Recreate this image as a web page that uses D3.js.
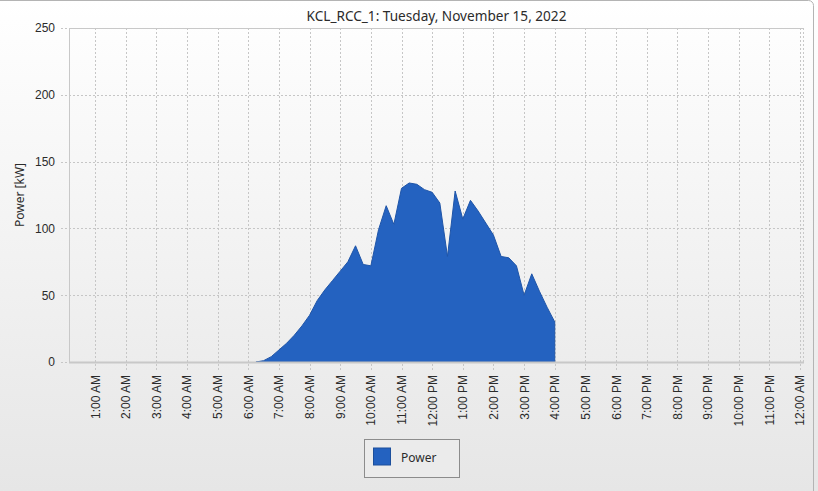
<!DOCTYPE html>
<html>
<head>
<meta charset="utf-8">
<script src="https://cdn.jsdelivr.net/npm/d3@7"></script>
<style>
  html, body { margin: 0; padding: 0; background: #ececec; }
  svg { display: block; font-family: "Noto Sans", "Open Sans", sans-serif; }
  .tick-label { font-size: 12px; fill: #2b2b2b; }
</style>
</head>
<body>
<div id="chart-div"></div>
<script>
const WIDTH = 818;
const HEIGHT = 491;
const MARGIN = { top: 28, right: 14, bottom: 129, left: 69 };

const TITLE = 'KCL_RCC_1: Tuesday, November 15, 2022';
const Y_LABEL = 'Power [kW]';
const SERIES_NAME = 'Power';

// sample times (15 min steps) and power readings in kW
const times = ['06:15', '06:30', '06:45', '07:00', '07:15', '07:30', '07:45',
  '08:00', '08:15', '08:30', '08:45', '09:00', '09:15', '09:30', '09:45',
  '10:00', '10:15', '10:30', '10:45', '11:00', '11:15', '11:30', '11:45',
  '12:00', '12:15', '12:30', '12:45', '13:00', '13:15', '13:30', '13:45',
  '14:00', '14:15', '14:30', '14:45', '15:00', '15:15', '15:30', '15:45', '16:00'];
const power = [0, 1, 4, 9, 14, 20, 27,
  35, 46, 54, 61, 68, 75, 87, 73,
  72, 99, 117, 103, 130, 134, 133, 129,
  127, 119, 79, 128, 107, 121, 113, 104,
  95, 79, 78, 72, 50, 66, 53, 41, 30];

const yTicks = [0, 50, 100, 150, 200, 250];
const xDomain = ['00:09', '24:08'];

const parseTime = s => {
  const [h, m] = s.split(':').map(Number);
  return new Date(2022, 10, 15, h, m);
};

class AreaChart {
  constructor() {
    this.data = times.map((t, i) => ({ t: parseTime(t), v: power[i] }));
    this.initializeSvg();
    this.drawAxes();
    this.drawArea();
    this.drawLegend();
  }

  initializeSvg() {
    this.svg = d3.select('#chart-div')
      .append('svg')
      .attr('width', WIDTH)
      .attr('height', HEIGHT);

    let defs = this.svg.append('defs');
    let bg = defs.append('linearGradient')
      .attr('id', 'bg-grad')
      .attr('x1', 0).attr('y1', 0).attr('x2', 0).attr('y2', 1);
    bg.append('stop').attr('offset', '0%').attr('stop-color', '#ffffff');
    bg.append('stop').attr('offset', '100%').attr('stop-color', '#e6e6e6');

    this.svg.append('rect')
      .attr('width', WIDTH)
      .attr('height', HEIGHT)
      .attr('fill', 'url(#bg-grad)');

    // window frame
    this.svg.append('rect')
      .attr('x', -6).attr('y', 0.5)
      .attr('width', WIDTH + 1.5).attr('height', HEIGHT + 6)
      .attr('rx', 5)
      .attr('fill', 'none')
      .attr('stroke', '#b4b4b4');

    this.xScale = d3.scaleTime()
      .domain(xDomain.map(parseTime))
      .range([MARGIN.left, WIDTH - MARGIN.right]);

    this.yScale = d3.scaleLinear()
      .domain([0, 250])
      .range([HEIGHT - MARGIN.bottom, MARGIN.top]);

    this.svg.append('text')
      .attr('x', (MARGIN.left + WIDTH - MARGIN.right) / 2)
      .attr('y', 21)
      .attr('text-anchor', 'middle')
      .attr('font-size', 13.6)
      .attr('fill', '#2b2b2b')
      .text(TITLE);

    this.svg.append('text')
      .attr('transform', `translate(24, ${(MARGIN.top + HEIGHT - MARGIN.bottom) / 2}) rotate(-90)`)
      .attr('text-anchor', 'middle')
      .attr('font-size', 12)
      .attr('fill', '#2b2b2b')
      .text(Y_LABEL);
  }

  drawAxes() {
    const x0 = MARGIN.left, x1 = WIDTH - MARGIN.right;
    const y0 = HEIGHT - MARGIN.bottom, y1 = MARGIN.top;
    const hourTicks = d3.timeHour.every(1).range(parseTime('01:00'), parseTime('24:01'));

    let grid = this.svg.append('g').attr('id', 'grid');

    grid.selectAll('line.vgrid')
      .data(hourTicks)
      .join('line')
      .attr('class', 'vgrid')
      .attr('x1', d => Math.round(this.xScale(d)) + 0.5)
      .attr('x2', d => Math.round(this.xScale(d)) + 0.5)
      .attr('y1', y1)
      .attr('y2', y0 + 8)
      .attr('stroke', '#c6c6c6')
      .attr('stroke-dasharray', '2,2');

    grid.selectAll('line.hgrid')
      .data(yTicks.filter(d => d > 0 && d < 250))
      .join('line')
      .attr('class', 'hgrid')
      .attr('x1', x0 - 8)
      .attr('x2', x1)
      .attr('y1', d => Math.round(this.yScale(d)) + 0.5)
      .attr('y2', d => Math.round(this.yScale(d)) + 0.5)
      .attr('stroke', '#c6c6c6')
      .attr('stroke-dasharray', '2,2');

    // y ticks at the ends of the scale
    grid.selectAll('line.yend')
      .data([0, 250])
      .join('line')
      .attr('class', 'yend')
      .attr('x1', x0 - 8)
      .attr('x2', x0)
      .attr('y1', d => Math.round(this.yScale(d)) + 0.5)
      .attr('y2', d => Math.round(this.yScale(d)) + 0.5)
      .attr('stroke', '#c6c6c6')
      .attr('stroke-dasharray', '2,2');

    // plot frame
    this.svg.append('line')
      .attr('x1', x0).attr('x2', x1).attr('y1', y1 + 0.5).attr('y2', y1 + 0.5)
      .attr('stroke', '#c8c8c8');
    this.svg.append('line')
      .attr('x1', x0 + 0.5).attr('x2', x0 + 0.5).attr('y1', y1).attr('y2', y0)
      .attr('stroke', '#c8c8c8');
    this.svg.append('line')
      .attr('x1', x1 - 0.5).attr('x2', x1 - 0.5).attr('y1', y1).attr('y2', y0)
      .attr('stroke', '#c8c8c8')
      .attr('stroke-dasharray', '2,2');

    let yAxis = d3.axisLeft(this.yScale).tickValues(yTicks).tickSize(0).tickPadding(14);
    this.svg.append('g')
      .attr('transform', `translate(${x0},0)`)
      .call(yAxis)
      .call(g => g.select('.domain').remove())
      .call(g => g.selectAll('text').attr('class', 'tick-label'));

    let xAxis = d3.axisBottom(this.xScale)
      .tickValues(hourTicks)
      .tickSize(0)
      .tickFormat(d3.timeFormat('%-I:%M %p'));
    this.svg.append('g')
      .attr('transform', `translate(0,${y0})`)
      .call(xAxis)
      .call(g => g.select('.domain').remove())
      .call(g => g.selectAll('text')
        .attr('class', 'tick-label')
        .attr('text-anchor', 'end')
        .attr('dy', null)
        .attr('transform', 'translate(4,13) rotate(-90)')
        .attr('x', 0)
        .attr('y', 0));
  }

  drawArea() {
    let area = d3.area()
      .x(d => this.xScale(d.t))
      .y0(this.yScale(0))
      .y1(d => this.yScale(d.v));

    this.svg.append('path')
      .datum(this.data)
      .attr('d', area)
      .attr('fill', '#2462c0')
      .attr('stroke', '#1f55a8')
      .attr('stroke-width', 1)
      .attr('stroke-linejoin', 'round');

    // bottom axis line on top of the area
    const y0 = HEIGHT - MARGIN.bottom;
    this.svg.append('line')
      .attr('x1', MARGIN.left).attr('x2', WIDTH - MARGIN.right)
      .attr('y1', y0 + 0.5).attr('y2', y0 + 0.5)
      .attr('stroke', '#c8c8c8')
      .attr('stroke-width', 2);
  }

  drawLegend() {
    let lg = this.svg.append('g').attr('transform', 'translate(364,439)');
    lg.append('rect')
      .attr('x', 0.5).attr('y', 0.5)
      .attr('width', 95).attr('height', 38)
      .attr('fill', '#ebebeb')
      .attr('stroke', '#8c8c8c');
    lg.append('rect')
      .attr('x', 9.5).attr('y', 9)
      .attr('width', 17).attr('height', 17)
      .attr('fill', '#2462c0')
      .attr('stroke', '#1c4f9c');
    lg.append('text')
      .attr('x', 37)
      .attr('y', 23)
      .attr('font-size', 12)
      .attr('fill', '#2b2b2b')
      .text(SERIES_NAME);
  }
}

new AreaChart();
</script>
</body>
</html>
